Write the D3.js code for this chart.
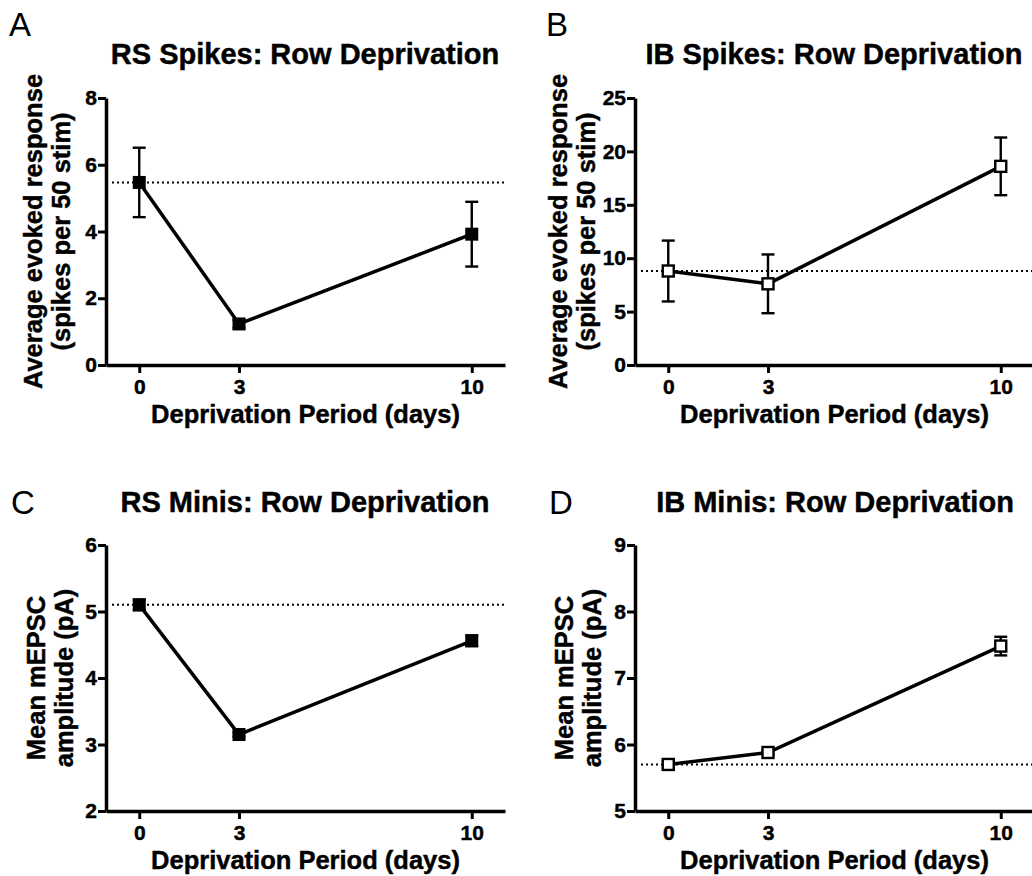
<!DOCTYPE html>
<html>
<head>
<meta charset="utf-8">
<script src="https://cdn.jsdelivr.net/npm/d3@7"></script>
<style>
  html, body { margin: 0; padding: 0; background: #fff; }
  svg { display: block; }
  text { font-family: "Liberation Sans", Arial, Helvetica, sans-serif; fill: #000; }
  .bold { font-weight: bold; stroke: #000; stroke-width: 0.45px; }
</style>
</head>
<body>
<svg id="chart" width="1032" height="876"></svg>
<script>
// ---- data ----
const days = [0, 3, 10];
const xTicks = [0, 3, 10];

const rsSpikesMean = [5.47, 1.23, 3.92];
const rsSpikesSem  = [1.04, 0.12, 0.97];
const rsSpikesTicks = [0, 2, 4, 6, 8];

const ibSpikesMean = [8.8, 7.6, 18.6];
const ibSpikesSem  = [2.85, 2.75, 2.7];
const ibSpikesTicks = [0, 5, 10, 15, 20, 25];

const rsMinisMean = [5.10, 3.15, 4.56];
const rsMinisSem  = [0.08, 0.03, 0.08];
const rsMinisTicks = [2, 3, 4, 5, 6];

const ibMinisMean = [5.70, 5.88, 7.48];
const ibMinisSem  = [0.05, 0.03, 0.14];
const ibMinisTicks = [5, 6, 7, 8, 9];

const panelLetters = ["A", "B", "C", "D"];
const panelTitles = ["RS Spikes: Row Deprivation", "IB Spikes: Row Deprivation",
                     "RS Minis: Row Deprivation", "IB Minis: Row Deprivation"];
const spikesYLabel = ["Average evoked response", "(spikes per 50 stim)"];
const minisYLabel = ["Mean mEPSC", "amplitude (pA)"];
const xLabel = "Deprivation Period (days)";

// ---- layout ----
const svg = d3.select("#chart");

const panels = [
  { letter: panelLetters[0], title: panelTitles[0], mean: rsSpikesMean, sem: rsSpikesSem, ticks: rsSpikesTicks,
    yDomain: [0, 8], yLabel: spikesYLabel, filled: true,
    xRange: [106, 505], yRange: [365, 98], letterPos: [9, 36], titleX: 305, titleY: 64, yLabX: [42, 70] },
  { letter: panelLetters[1], title: panelTitles[1], mean: ibSpikesMean, sem: ibSpikesSem, ticks: ibSpikesTicks,
    yDomain: [0, 25], yLabel: spikesYLabel, filled: false,
    xRange: [635, 1034], yRange: [365, 98], letterPos: [546, 36], titleX: 834, titleY: 64, yLabX: [567, 595] },
  { letter: panelLetters[2], title: panelTitles[2], mean: rsMinisMean, sem: rsMinisSem, ticks: rsMinisTicks,
    yDomain: [2, 6], yLabel: minisYLabel, filled: true,
    xRange: [106, 505], yRange: [811, 545], letterPos: [11, 514], titleX: 305, titleY: 512, yLabX: [45, 73] },
  { letter: panelLetters[3], title: panelTitles[3], mean: ibMinisMean, sem: ibMinisSem, ticks: ibMinisTicks,
    yDomain: [5, 9], yLabel: minisYLabel, filled: false,
    xRange: [635, 1034], yRange: [811, 545], letterPos: [549, 514], titleX: 835, titleY: 512, yLabX: [573, 601] }
];

panels.forEach(p => {
  const g = svg.append("g");
  const x = d3.scaleLinear().domain([-1, 11]).range(p.xRange);
  const y = d3.scaleLinear().domain(p.yDomain).range(p.yRange);
  const x0 = p.xRange[0];

  // panel letter
  g.append("text").attr("x", p.letterPos[0]).attr("y", p.letterPos[1])
    .attr("font-size", 33).text(p.letter);

  // title
  g.append("text").attr("class", "bold").attr("x", p.titleX).attr("y", p.titleY)
    .attr("text-anchor", "middle").attr("font-size", 29)
    .text(p.title);

  // y axis
  const yAxis = g.append("g").attr("transform", `translate(${x0},0)`)
    .call(d3.axisLeft(y).tickValues(p.ticks).tickSize(8).tickSizeOuter(0).tickPadding(1).tickFormat(d3.format("d")));
  yAxis.select(".domain").attr("stroke-width", 3.5);
  yAxis.selectAll(".tick line").attr("stroke-width", 3);
  yAxis.selectAll(".tick text").attr("class", "bold").attr("font-size", 21)
    .attr("font-family", "Liberation Sans, Arial, sans-serif").attr("fill", "#000");

  // x axis
  const xAxis = g.append("g").attr("transform", `translate(0,${p.yRange[0]})`)
    .call(d3.axisBottom(x).tickValues(xTicks).tickSize(8).tickSizeOuter(0).tickPadding(6).tickFormat(d3.format("d")));
  xAxis.select(".domain").attr("stroke-width", 3.5);
  xAxis.selectAll(".tick line").attr("stroke-width", 3);
  xAxis.selectAll(".tick text").attr("class", "bold").attr("font-size", 21)
    .attr("font-family", "Liberation Sans, Arial, sans-serif").attr("fill", "#000");

  // x label
  g.append("text").attr("class", "bold").attr("x", x(5)).attr("y", p.yRange[0] + 58)
    .attr("text-anchor", "middle").attr("font-size", 25.5).text(xLabel);

  // y label (two lines, rotated)
  const yc = (p.yRange[0] + p.yRange[1]) / 2;
  p.yLabel.forEach((t, i) => {
    g.append("text").attr("class", "bold")
      .attr("transform", `translate(${p.yLabX[i]},${yc}) rotate(-90)`)
      .attr("text-anchor", "middle").attr("font-size", 25.5).text(t);
  });

  // dotted baseline (day 0 mean)
  g.append("line")
    .attr("x1", x0 + 6).attr("x2", p.xRange[1])
    .attr("y1", y(p.mean[0])).attr("y2", y(p.mean[0]))
    .attr("stroke", "#000").attr("stroke-width", 2).attr("stroke-dasharray", "2,3");

  const data = days.map((d, i) => ({ d, m: p.mean[i], s: p.sem[i] }));

  // error bars
  const eb = g.append("g").attr("stroke", "#000").attr("stroke-width", 2.4);
  data.forEach(v => {
    eb.append("line").attr("x1", x(v.d)).attr("x2", x(v.d)).attr("y1", y(v.m - v.s)).attr("y2", y(v.m + v.s));
    [v.m - v.s, v.m + v.s].forEach(e => {
      eb.append("line").attr("x1", x(v.d) - 6.5).attr("x2", x(v.d) + 6.5).attr("y1", y(e)).attr("y2", y(e));
    });
  });

  // connecting line
  g.append("path").datum(data)
    .attr("d", d3.line().x(v => x(v.d)).y(v => y(v.m)))
    .attr("fill", "none").attr("stroke", "#000").attr("stroke-width", 3.5);

  // markers
  const sz = p.filled ? 13 : 11;
  g.selectAll(".mk").data(data).enter().append("rect")
    .attr("x", v => x(v.d) - sz / 2).attr("y", v => y(v.m) - sz / 2)
    .attr("width", sz).attr("height", sz)
    .attr("fill", p.filled ? "#000" : "#fff")
    .attr("stroke", "#000").attr("stroke-width", p.filled ? 0 : 2.4);
});
</script>
</body>
</html>
